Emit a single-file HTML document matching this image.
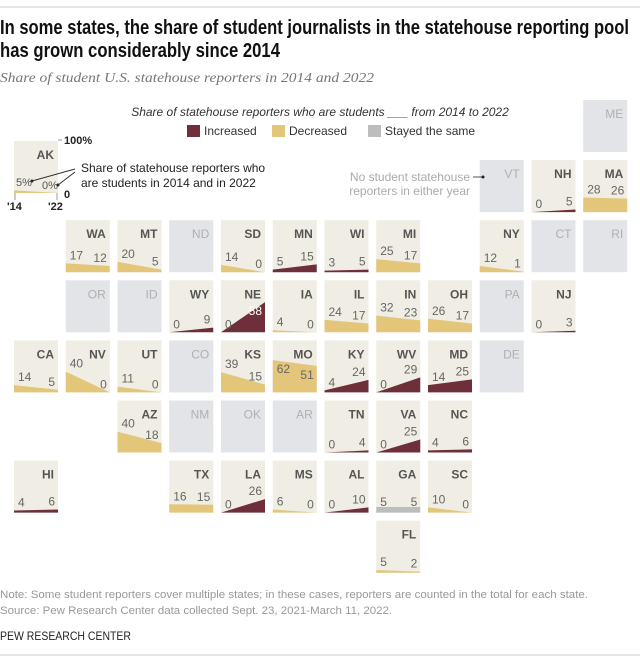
<!DOCTYPE html>
<html><head><meta charset="utf-8"><style>
body{margin:0;background:#fff;}
svg{display:block;font-family:"Liberation Sans",sans-serif;}
</style></head><body>
<svg id="chart" width="640" height="660" viewBox="0 0 640 660">
<line x1="0" y1="7" x2="640" y2="7" stroke="#ccc"/>
<text x="0" y="34" font-family="Liberation Sans Narrow, Liberation Sans, sans-serif" font-weight="bold" font-size="20" fill="#111" textLength="629" lengthAdjust="spacingAndGlyphs">In some states, the share of student journalists in the statehouse reporting pool</text>
<text x="0" y="57" font-family="Liberation Sans Narrow, Liberation Sans, sans-serif" font-weight="bold" font-size="20" fill="#111" textLength="280" lengthAdjust="spacingAndGlyphs">has grown considerably since 2014</text>
<text x="0" y="82" font-family="Liberation Serif, serif" font-style="italic" font-size="14" fill="#777" textLength="374" lengthAdjust="spacingAndGlyphs">Share of student U.S. statehouse reporters in 2014 and 2022</text>
<text x="320" y="116" text-anchor="middle" font-style="italic" font-size="12" fill="#333">Share of statehouse reporters who are students ___ from 2014 to 2022</text>
<g>
<rect x="187" y="125" width="13" height="12" fill="#6e2f3a"/>
<text x="204" y="135" font-size="12" fill="#333">Increased</text>
<rect x="272" y="125" width="13" height="12" fill="#e3c67a"/>
<text x="289" y="135" font-size="12" fill="#333">Decreased</text>
<rect x="368" y="125" width="13" height="12" fill="#bdbdbd"/>
<text x="385" y="135" font-size="12" fill="#333">Stayed the same</text>
</g>
<g id="tiles"></g>
<g>
<text x="64" y="144" font-size="11" font-weight="bold" fill="#222">100%</text>
<line x1="58" y1="140" x2="62" y2="140" stroke="#999"/>
<text x="64" y="198" font-size="11" font-weight="bold" fill="#222">0</text>
<line x1="15" y1="193" x2="15" y2="200" stroke="#999"/>
<line x1="57" y1="193" x2="57" y2="200" stroke="#999"/>
<text x="7" y="210" font-size="11" font-weight="bold" fill="#222">'14</text>
<text x="48" y="210" font-size="11" font-weight="bold" fill="#222">'22</text>
<text x="16" y="186" font-size="11" fill="#555">5%</text>
<text x="42" y="189" font-size="11" fill="#555">0%</text>
<circle cx="32" cy="181" r="1.5" fill="#222"/><circle cx="58" cy="185" r="1.5" fill="#222"/>
<polyline points="32,181 75,169" stroke="#333" fill="none"/>
<polyline points="58,185 75,172" stroke="#333" fill="none"/>
<text x="81" y="172" font-size="12" fill="#222">Share of statehouse reporters who</text>
<text x="81" y="187" font-size="12" fill="#222">are students in 2014 and in 2022</text>
</g>
<g>
<text x="470" y="181" text-anchor="end" font-size="12" fill="#aaa">No student statehouse</text>
<text x="470" y="195" text-anchor="end" font-size="12" fill="#aaa">reporters in either year</text>
<line x1="473" y1="177" x2="482" y2="177" stroke="#555"/><circle cx="483" cy="177" r="1.5" fill="#222"/>
</g>
<text x="0" y="598" font-size="11" fill="#999" textLength="588" lengthAdjust="spacingAndGlyphs">Note: Some student reporters cover multiple states; in these cases, reporters are counted in the total for each state.</text>
<text x="0" y="614" font-size="11" fill="#999" textLength="392" lengthAdjust="spacingAndGlyphs">Source: Pew Research Center data collected Sept. 23, 2021-March 11, 2022.</text>
<text x="0" y="640" font-size="12" fill="#222" textLength="131" lengthAdjust="spacingAndGlyphs">PEW RESEARCH CENTER</text>
<line x1="0" y1="655" x2="640" y2="655" stroke="#ccc"/>
</svg>
<script>
const states = ["AK","ME","VT","NH","MA","WA","MT","ND","SD","MN","WI","MI","NY","CT","RI","OR","ID","WY","NE","IA","IL","IN","OH","PA","NJ","CA","NV","UT","CO","KS","MO","KY","WV","MD","DE","AZ","NM","OK","AR","TN","VA","NC","HI","TX","LA","MS","AL","GA","SC","FL"];
const cols =   [0,11,9,10,11,1,2,3,4,5,6,7,9,10,11,1,2,3,4,5,6,7,8,9,10,0,1,2,3,4,5,6,7,8,9,2,3,4,5,6,7,8,0,3,4,5,6,7,8,7];
const rows =   [-1,0,1,1,1,2,2,2,2,2,2,2,2,2,2,3,3,3,3,3,3,3,3,3,3,4,4,4,4,4,4,4,4,4,4,5,5,5,5,5,5,5,6,6,6,6,6,6,6,7];
const v2014 =  [5,null,null,0,28,17,20,null,14,5,3,25,12,null,null,null,null,0,0,4,24,32,26,null,0,14,40,11,null,39,62,4,0,14,null,40,null,null,null,0,0,4,4,16,0,6,0,5,10,5];
const v2022 =  [0,null,null,5,26,12,5,null,0,15,5,17,1,null,null,null,null,9,58,0,17,23,17,null,3,5,0,0,null,15,51,24,29,25,null,18,null,null,null,4,25,6,6,15,26,0,10,5,0,2];
const NS="http://www.w3.org/2000/svg";
const g=document.getElementById('tiles');
const W=44,H=52;
function xPos(c){return 14+c*51.75;}
function yPos(r){return r<0?141:100+r*60.1;}
function yVal(top,v){return top+H-v/100*H;}
function mk(tag,attrs){const e=document.createElementNS(NS,tag);for(const k in attrs)e.setAttribute(k,attrs[k]);return e;}
states.forEach((s,i)=>{
  const x=xPos(cols[i]),y=yPos(rows[i]);
  const a=v2014[i],b=v2022[i];
  const grp=mk('g',{});
  
  
  const empty=a===null;
  const bg=mk('rect',{x:x,y:y,width:W,height:H,fill:empty?'#e3e4e7':'#efede4'});
  
  
  grp.appendChild(bg);
  const lab=mk('text',{x:x+W-4,y:y+18,'text-anchor':'end','font-size':'12','font-weight':empty?'normal':'bold',fill:empty?'#b0b0b0':'#555'});
  lab.textContent=s;
  
  
  grp.appendChild(lab);
  if(!empty){
    const col=b>a?'#6e2f3a':(b<a?'#e3c67a':'#bdbdbd');
    const ya=yVal(y,a),yb=yVal(y,b);
    let pts;
    if(a===b){pts=`${x},${ya-3} ${x+W},${yb-3} ${x+W},${y+H} ${x},${y+H}`;}
    else pts=`${x},${ya} ${x+W},${yb} ${x+W},${y+H} ${x},${y+H}`;
    const area=mk('polygon',{points:pts,fill:col});
    
    
    grp.appendChild(area);
    if(s!=='AK'){
      const inFill=v=>v>=50;
      const t1=mk('text',{x:x+4,y:inFill(a)?ya+13:ya-4,'font-size':'12',fill:'#666'});
      t1.textContent=a;
      
      
      grp.appendChild(t1);
      const t2=mk('text',{x:x+W-3,y:inFill(b)?yb+13:yb-4,'text-anchor':'end','font-size':'12',fill:inFill(b)&&b>a?'#fff':'#666'});
      t2.textContent=b;
      
      
      grp.appendChild(t2);
    }
  }
  g.appendChild(grp);
});
</script>
</body></html>
